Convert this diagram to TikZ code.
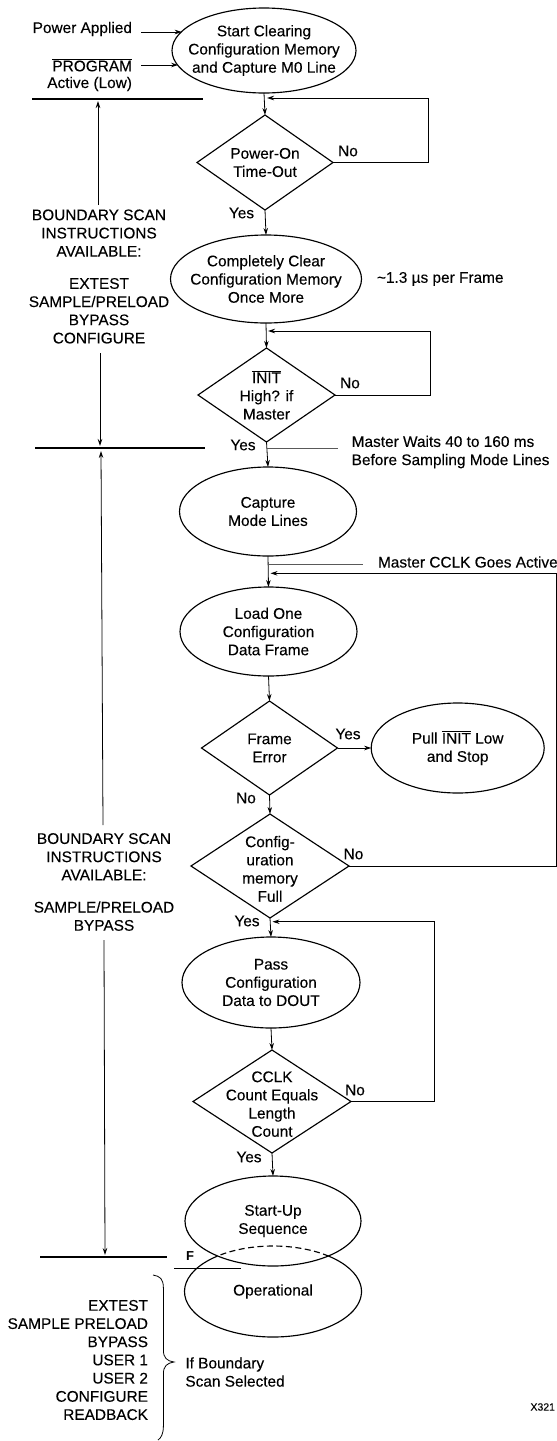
\documentclass[tikz,border=0pt]{standalone}
\usepackage{fontspec}
\setmainfont{Liberation Sans}[FakeBold=0.2]
\newfontfamily\boldmark{Liberation Sans Bold}
\usetikzlibrary{shapes.geometric,arrows.meta}
\newcommand{\ovl}[1]{$\overline{\hbox{#1}}$}
\tikzset{
  base/.style={font=\fontsize{15.4}{18.2}\selectfont,align=center,inner sep=0pt,outer sep=0pt},
  ell/.style={base,shape=ellipse,draw,line width=1.15pt,inner xsep=-60pt,inner ysep=-40pt},
  dia/.style={base,shape=diamond,draw,line width=1.15pt,inner xsep=-60pt,inner ysep=-40pt,aspect=1},
  lbl/.style={base},
  conn/.style={line width=0.8pt,-{Stealth[length=7pt,width=4.5pt]}},
  plain/.style={line width=0.8pt},
  thick bar/.style={line width=2pt}
}
\begin{document}
\begin{tikzpicture}[x=1pt,y=1pt]
\useasboundingbox (0,0) rectangle (557,-1441);
% process ellipses
\node[ell,minimum width=184pt,minimum height=85pt] (e1) at (264,-50.5) {Start Clearing\\Configuration Memory\\and Capture M0 Line};
\node[ell,minimum width=191pt,minimum height=88pt] (e2) at (266,-279) {Completely Clear\\Configuration Memory\\Once More};
\node[ell,minimum width=177pt,minimum height=89pt] (e3) at (268,-511.5) {Capture\\Mode Lines};
\node[ell,minimum width=177pt,minimum height=89pt] (e4) at (268.5,-631.5) {Load One\\Configuration\\Data Frame};
\node[ell,minimum width=173pt,minimum height=90pt] (e5) at (457.7,-748) {Pull \ovl{INIT} Low\\and Stop};
\node[ell,minimum width=178pt,minimum height=91pt] (e6) at (271,-982.5) {Pass\\Configuration\\Data to DOUT};
\node[ell,minimum width=176pt,minimum height=90pt] (e7) at (273,-1221) {Start-Up\\Sequence};
\node[base,shape=ellipse,inner xsep=-60pt,inner ysep=-40pt,minimum width=177pt,minimum height=91pt] (e8) at (273,-1291.5) {Operational};
\draw[line width=1.15pt] (e8.center) ++(129:88.5 and 45.5) arc[start angle=129,end angle=411,x radius=88.5,y radius=45.5];
\draw[line width=1.15pt,dash pattern=on 6pt off 3.5pt] (e8.center) ++(51:88.5 and 45.5) arc[start angle=51,end angle=129,x radius=88.5,y radius=45.5];
% decisions
\node[dia,minimum width=136pt,minimum height=95pt] (d1) at (265,-162.5) {Power-On\\Time-Out};
\node[dia,minimum width=137pt,minimum height=94pt] (d2) at (266.5,-395) {\ovl{INIT}\\High? if\\Master};
\node[dia,minimum width=136pt,minimum height=94pt] (d3) at (269.5,-748) {Frame\\Error};
\node[dia,minimum width=158pt,minimum height=104pt] (d4) at (270,-866) {\rule{0pt}{17pt}Config-\\uration\\memory\\Full};
\node[dia,minimum width=158pt,minimum height=103pt] (d5) at (272,-1101.5) {\rule{0pt}{16pt}CCLK\\Count Equals\\Length\\Count};
% main flow
\draw[conn] (e1.south) -- (d1.north);
\draw[conn] (d1.south) -- (e2.north);
\draw[conn] (e2.south) -- (d2.north);
\draw[conn] (d2.south) -- (e3.north);
\draw[conn] (e3.south) -- (e4.north);
\draw[conn] (e4.south) -- (d3.north);
\draw[conn] (d3.south) -- (d4.north);
\draw[conn] (d3.east) -- (e5.west);
\draw[conn] (d4.south) -- (e6.north);
\draw[conn] (e6.south) -- (d5.north);
\draw[conn] (d5.south) -- (e7.north);
% feedback loops
\coordinate (t1) at (267,-98);   \coordinate (r1) at (428.4,-98);
\coordinate (t2) at (268,-331);  \coordinate (r2) at (430,-331);
\coordinate (t3) at (270.5,-573.3); \coordinate (r3) at (556,-573.3);
\coordinate (t4) at (272.5,-921.7); \coordinate (r4) at (434,-921.7);
\draw[conn] (d1.east) -| (r1) -- (t1);
\draw[conn] (d2.east) -| (r2) -- (t2);
\draw[conn] (d4.east) -| (r3) -- (t3);
\draw[conn] (d5.east) -| (r4) -- (t4);
% left inputs
\node[lbl,anchor=east] (pa) at (132,-29) {Power Applied};
\node[lbl,anchor=east] (pg) at (132,-65) {\ovl{PROGRAM}};
\node[lbl,anchor=east] (al) at (132,-84) {Active (Low)};
\coordinate (pas) at (141,-32);
\coordinate (pgs) at (141,-65);
\draw[conn] (pas) -- (pas -| e1.167);
\draw[conn] (pgs) -- (pgs -| e1.190);
% state bars
\coordinate (b1a) at (32,-98.5);  \coordinate (b1b) at (202.5,-98.5);
\coordinate (b2a) at (35,-448);   \coordinate (b2b) at (205,-448);
\coordinate (b3a) at (40,-1257);  \coordinate (b3b) at (167,-1257);
\draw[thick bar] (b1a) -- (b1b);
\draw[thick bar] (b2a) -- (b2b);
\draw[thick bar] (b3a) -- (b3b);
% boundary scan blocks
\node[lbl] (bs1) at (99,-276.5) {BOUNDARY SCAN\\INSTRUCTIONS\\AVAILABLE:\\[14pt]EXTEST\\SAMPLE/PRELOAD\\BYPASS\\CONFIGURE};
\node[lbl] (bs2) at (104,-882) {BOUNDARY SCAN\\INSTRUCTIONS\\AVAILABLE:\\[14pt]SAMPLE/PRELOAD\\BYPASS};
\coordinate (u1) at (98,-101);   \coordinate (u1s) at (98,-205);
\coordinate (d1e) at (100,-446); \coordinate (d1s) at (100,-353);
\coordinate (u2) at (101,-451);  \coordinate (u2s) at (103,-825);
\coordinate (d2e) at (105,-1255); \coordinate (d2s) at (104,-940);
\draw[conn] (u1s) -- (u1);
\draw[conn] (d1s) -- (d1e);
\draw[conn] (u2s) -- (u2);
\draw[conn] (d2s) -- (d2e);
% branch labels
\node[lbl] (n1) at (348,-151) {No};
\node[lbl] (y1) at (241.5,-213) {Yes};
\node[lbl] (n2) at (350,-383) {No};
\node[lbl] (y2) at (243,-445) {Yes};
\node[lbl] (y3) at (348,-734) {Yes};
\node[lbl] (n3) at (246,-798) {No};
\node[lbl] (n4) at (353.5,-854) {No};
\node[lbl] (y4) at (247,-921) {Yes};
\node[lbl] (n5) at (355,-1090) {No};
\node[lbl] (y5) at (249,-1157) {Yes};
% annotations
\node[lbl,anchor=west] (fr) at (377,-279) {\symbol{126}1.3 µs per Frame};
\node[lbl,anchor=west,align=left] (mw) at (351.7,-452) {Master Waits 40 to 160 ms\\Before Sampling Mode Lines};
\node[lbl,anchor=west] (mc) at (378,-562) {Master CCLK Goes Active};
\coordinate (mwa) at (266.7,-448);
\coordinate (mca) at (268.2,-564);
\draw[plain,gray!70!black] (mwa) -- (337.5,-448);
\draw[plain,gray!70!black] (mca) -- (363,-564);
% F marker
\node[lbl,font=\fontsize{13}{14}\boldmark] (f) at (190,-1256.5) {F};
\coordinate (fa) at (174,-1268); \coordinate (fb) at (240.5,-1268);
\draw[line width=0.9pt] (fa) -- (fb);
% operational list and brace
\node[lbl,anchor=east,align=right] (ops) at (148,-1360) {EXTEST\\SAMPLE PRELOAD\\BYPASS\\USER 1\\USER 2\\CONFIGURE\\READBACK};
\node[lbl,anchor=west,align=left] (ifb) at (185.4,-1372) {If Boundary\\Scan Selected};
\coordinate (bt) at (153,-1275); \coordinate (bm) at (174,-1362); \coordinate (bb) at (158,-1440);
\draw[plain] (bt) .. controls (160,-1276) and (163.4,-1279) .. (163.4,-1288)
  -- (163.4,-1350) .. controls (163.4,-1358) and (167,-1361) .. (bm)
  .. controls (167,-1363) and (163.4,-1366) .. (163.4,-1374)
  -- (163.4,-1426) .. controls (163.4,-1434) and (161,-1438) .. (bb);
\node[lbl,anchor=east,font=\fontsize{10.5}{12}\selectfont] (x) at (555,-1407) {X321};
\end{tikzpicture}
\end{document}
